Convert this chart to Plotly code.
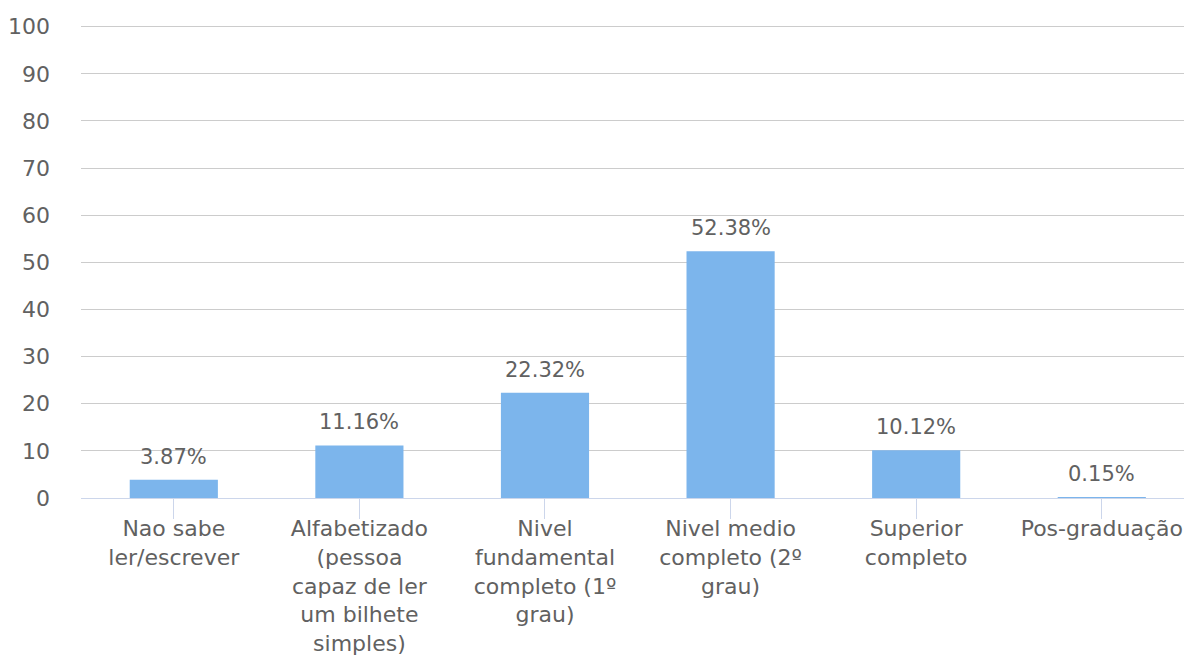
import plotly.graph_objects as go

categories = [
    "Nao sabe<br>ler/escrever",
    "Alfabetizado<br>(pessoa<br>capaz de ler<br>um bilhete<br>simples)",
    "Nivel<br>fundamental<br>completo (1º<br>grau)",
    "Nivel medio<br>completo (2º<br>grau)",
    "Superior<br>completo",
    "Pos-graduação",
]
values = [3.87, 11.16, 22.32, 52.38, 10.12, 0.15]
value_labels = ["3.87%", "11.16%", "22.32%", "52.38%", "10.12%", "0.15%"]
y_ticks = [0, 10, 20, 30, 40, 50, 60, 70, 80, 90, 100]

FONT = "DejaVu Sans"
TXT = "#616161"
xpos = list(range(len(categories)))

fig = go.Figure(
    go.Bar(
        x=xpos,
        y=values,
        marker=dict(color="#7cb5ec", line=dict(width=0)),
        width=0.475,
        hoverinfo="skip",
    )
)

for xi, v, lab in zip(xpos, values, value_labels):
    fig.add_annotation(
        x=xi, y=v, text=lab, showarrow=False,
        xanchor="center", yanchor="middle", yshift=23,
        font=dict(family=FONT, size=21, color=TXT),
    )

fig.update_layout(
    width=1184,
    height=664,
    margin=dict(l=81, r=0, t=22, b=166),
    paper_bgcolor="white",
    plot_bgcolor="white",
    showlegend=False,
    font=dict(family=FONT, size=22, color=TXT),
)

fig.update_xaxes(
    range=[-0.5, 5.443],
    tickmode="array",
    tickvals=xpos,
    ticktext=categories,
    tickson="boundaries",
    ticks="outside",
    ticklen=20,
    tickcolor="#ccd6eb",
    tickwidth=1,
    showline=True,
    linecolor="#ccd6eb",
    linewidth=1,
    showgrid=False,
    tickangle=0,
    ticklabelstandoff=-9,
    tickfont=dict(family=FONT, size=22, color=TXT),
)

fig.update_yaxes(
    range=[0, 101],
    tickmode="array",
    tickvals=y_ticks,
    showgrid=True,
    gridcolor="#cccccc",
    gridwidth=1,
    zeroline=False,
    showline=False,
    ticks="",
    ticklabelstandoff=30,
    tickfont=dict(family=FONT, size=22, color=TXT),
)

fig.write_html(
    "out.html",
    config={"displayModeBar": False},
    post_script="document.body.style.margin='0';document.body.style.overflow='hidden';",
)
